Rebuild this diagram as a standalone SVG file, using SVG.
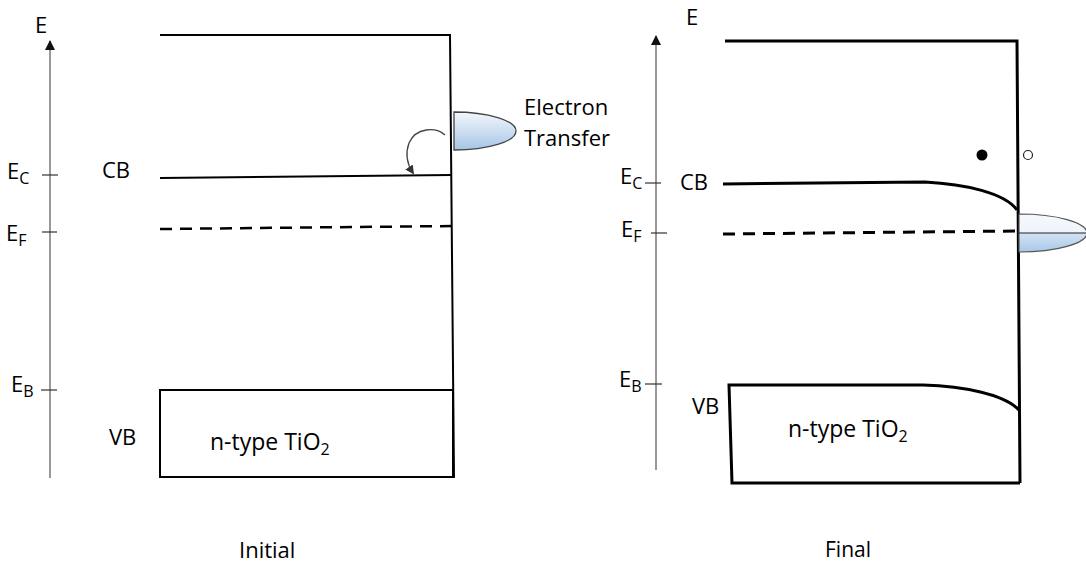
<svg xmlns="http://www.w3.org/2000/svg" width="1086" height="563" viewBox="0 0 1086 563">
<style>
text{font-family:"Open Sans","Liberation Sans",sans-serif;fill:#000;font-size:22px}
.sub{font-size:16px}
.axis{stroke:#777;stroke-width:1.5;fill:none}
.tick{stroke:#333;stroke-width:1.2}
.band{stroke:#000;stroke-width:2;fill:none}
.band2{stroke:#000;stroke-width:3;fill:none}
.dash{stroke:#000;stroke-width:2.5;stroke-dasharray:12 8;fill:none}
.dash2{stroke:#000;stroke-width:3;stroke-dasharray:12 8;fill:none}
</style>
<defs>
<marker id="axhead" markerWidth="10" markerHeight="12" refX="9" refY="5" orient="auto" markerUnits="userSpaceOnUse" viewBox="0 0 10 10">
<path d="M0,0 L10,5 L0,10 Z" fill="#111"/>
</marker>
<marker id="curvhead" markerWidth="9" markerHeight="9" refX="8" refY="5" orient="auto" markerUnits="userSpaceOnUse" viewBox="0 0 10 10">
<path d="M0,0 L10,5 L0,10 Z" fill="#333"/>
</marker>
<linearGradient id="g1" x1="0" y1="0" x2="0" y2="1">
<stop offset="0" stop-color="#f3f7fc"/>
<stop offset="1" stop-color="#a6c5e6"/>
</linearGradient>
<linearGradient id="g2" x1="0" y1="0" x2="0" y2="1">
<stop offset="0" stop-color="#f6f9fd"/>
<stop offset="0.5" stop-color="#eef4fb"/>
<stop offset="0.5" stop-color="#d3e3f4"/>
<stop offset="1" stop-color="#a9c8e8"/>
</linearGradient>
</defs>

<g id="left-axis">
<line class="axis" x1="50" y1="478" x2="50" y2="41" marker-end="url(#axhead)"/>
<text x="35" y="33">E</text>
<line class="tick" x1="42" y1="175" x2="58" y2="175"/>
<text x="7" y="179">E<tspan class="sub" dy="5">C</tspan></text>
<line class="tick" x1="42" y1="232" x2="57" y2="232"/>
<text x="6" y="241">E<tspan class="sub" dy="5">F</tspan></text>
<line class="tick" x1="41" y1="390" x2="57" y2="390"/>
<text x="11" y="392">E<tspan class="sub" dy="5">B</tspan></text>
</g>

<g id="left-bands">
<path class="band" d="M160,35 L450,35 L454,478"/>
<line class="band" x1="160" y1="178" x2="452" y2="175"/>
<text x="102" y="178">CB</text>
<line class="dash" x1="160" y1="229" x2="455" y2="226"/>
<rect class="band" x="160" y="390" width="293" height="87"/>
<text x="109" y="445">VB</text>
<text x="210" y="450" style="font-size:23px">n-type TiO<tspan class="sub" dy="5">2</tspan></text>
</g>

<g id="left-transfer">
<path d="M454,112 A62,19 0 0 1 454,150 Z" fill="url(#g1)" stroke="#444" stroke-width="1.3"/>
<text x="524" y="115">Electron</text>
<text x="524" y="146">Transfer</text>
</g>

<g id="connectors">
<path d="M445,135 C436,127 416,127 409,143 C405,154 407,164 413,173" fill="none" stroke="#444" stroke-width="1.3" marker-end="url(#curvhead)"/>
</g>

<g id="right-axis">
<line class="axis" x1="656" y1="470" x2="656" y2="36" marker-end="url(#axhead)"/>
<text x="686" y="25">E</text>
<line class="tick" x1="645" y1="183" x2="661" y2="183"/>
<text x="620" y="184">E<tspan class="sub" dy="5">C</tspan></text>
<line class="tick" x1="651" y1="233" x2="667" y2="233"/>
<text x="621" y="237">E<tspan class="sub" dy="5">F</tspan></text>
<line class="tick" x1="645" y1="384" x2="662" y2="384"/>
<text x="619" y="387">E<tspan class="sub" dy="5">B</tspan></text>
</g>

<g id="right-bands">
<path class="band2" d="M725,41 L1017,41 L1020,483"/>
<path class="band2" d="M723,184 L925,182 C965,184 1005,193 1017,210"/>
<text x="680" y="190">CB</text>
<line class="dash2" x1="723" y1="234" x2="1017" y2="231"/>
<path class="band2" d="M1019,410 C1005,395 965,386 923,385 L729,385 L732,483 L1020,483"/>
<text x="692" y="414">VB</text>
<text x="788" y="437" style="font-size:23px">n-type TiO<tspan class="sub" dy="5">2</tspan></text>
</g>

<g id="right-transfer">
<path d="M1019,214 A68,19 0 0 1 1019,252 Z" fill="url(#g2)" stroke="#555" stroke-width="1.2"/>
<line x1="1019" y1="233" x2="1086" y2="233" stroke="#222" stroke-width="1"/>
</g>

<g id="carriers">
<circle cx="982" cy="155" r="5.5" fill="#000"/>
<circle cx="1028" cy="155" r="4.5" fill="#fff" stroke="#222" stroke-width="1.2"/>
</g>

<g id="captions">
<text x="239" y="558">Initial</text>
<text x="825" y="557" style="font-size:21px">Final</text>
</g>
</svg>
